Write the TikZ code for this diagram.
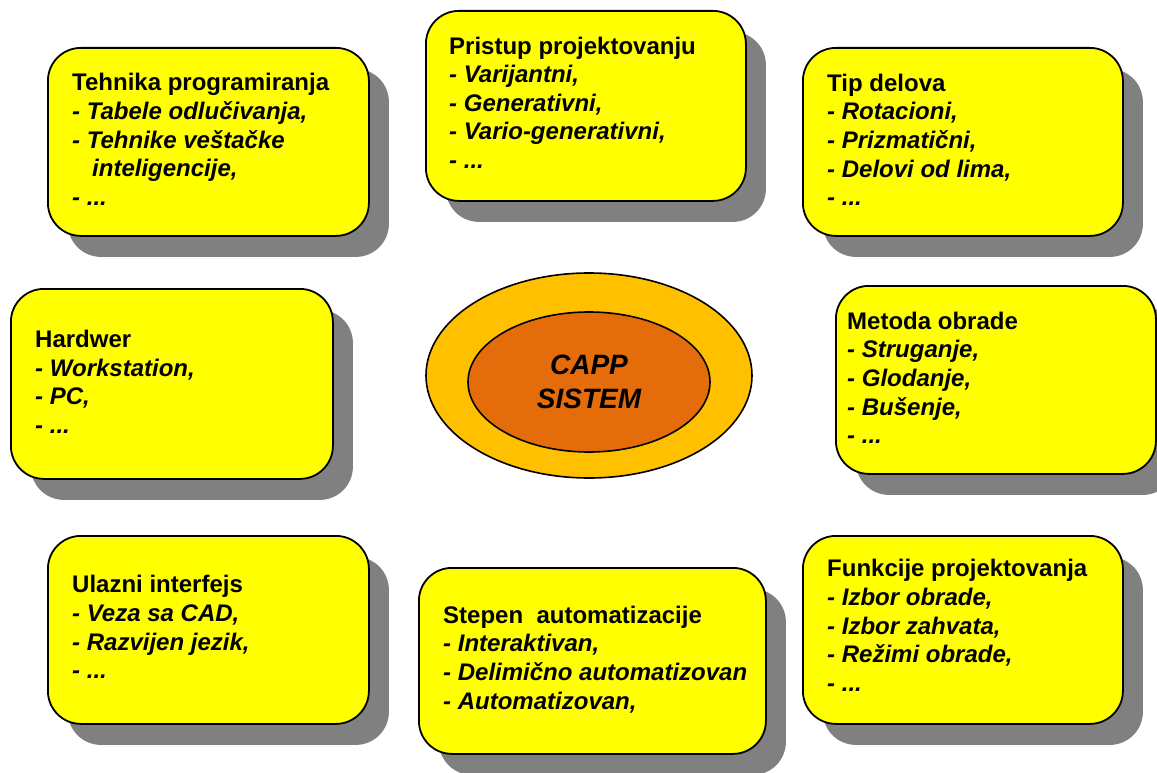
\documentclass[tikz,border=0pt]{standalone}
\usepackage{fontspec}
\setmainfont{Liberation Sans}
\usetikzlibrary{shapes.geometric,shadows}
\definecolor{boxyellow}{RGB}{255,255,0}
\definecolor{ringorange}{RGB}{255,192,0}
\definecolor{coreorange}{RGB}{228,108,10}
\definecolor{shadowgray}{RGB}{128,128,128}
\tikzset{
  infobox/.style={draw=black, line width=1.8pt, fill=boxyellow, rounded corners=33pt,
    anchor=north west, inner sep=0pt, minimum width=320pt, minimum height=188pt,
    drop shadow={shadow xshift=20pt, shadow yshift=-21pt, fill=shadowgray, opacity=1}},
  infotext/.style={anchor=north west, inner sep=0pt, align=left,
    font=\fontsize{24pt}{28.6pt}\selectfont\bfseries},
  ring/.style={ellipse, draw=black, line width=1.6pt, inner sep=0pt},
}
\newcommand{\firstln}{\rule{0pt}{20pt}}
\begin{document}
\begin{tikzpicture}[x=1pt,y=-1pt]
\useasboundingbox (0,0) rectangle (1157,773);

% boxes
\node[infobox, minimum width=321pt] (b1) at (47,47) {};
\node[infobox, minimum height=190pt] (b2) at (425,10) {};
\node[infobox] (b3) at (802,47) {};
\node[infobox, minimum width=322pt, minimum height=190pt] (b4) at (10,288) {};
\node[infobox] (b5) at (835,285) {};
\node[infobox, minimum width=321pt] (b6) at (47,535) {};
\node[infobox, minimum width=347pt, minimum height=186pt] (b7) at (418,567) {};
\node[infobox] (b8) at (802,535) {};

% texts
\node[infotext] (t1) at (72,70.7) {\firstln Tehnika programiranja\\
  \textit{- Tabele odlučivanja,}\\
  \textit{- Tehnike veštačke}\\
  \textit{\hspace*{20pt}inteligencije,}\\
  \textit{- ...}};
\node[infotext] (t2) at (449,34) {\firstln Pristup projektovanju\\
  \textit{- Varijantni,}\\
  \textit{- Generativni,}\\
  \textit{- Vario-generativni,}\\
  \textit{- ...}};
\node[infotext] (t3) at (827,71) {\firstln Tip delova\\
  \textit{- Rotacioni,}\\
  \textit{- Prizmatični,}\\
  \textit{- Delovi od lima,}\\
  \textit{- ...}};
\node[infotext] (t4) at (35,327.5) {\firstln Hardwer\\
  \textit{- Workstation,}\\
  \textit{- PC,}\\
  \textit{- ...}};
\node[infotext] (t5) at (847,309) {\firstln Metoda obrade\\
  \textit{- Struganje,}\\
  \textit{- Glodanje,}\\
  \textit{- Bušenje,}\\
  \textit{- ...}};
\node[infotext] (t6) at (72,572.7) {\firstln Ulazni interfejs\\
  \textit{- Veza sa CAD,}\\
  \textit{- Razvijen jezik,}\\
  \textit{- ...}};
\node[infotext] (t7) at (443,603) {\firstln Stepen\ \ automatizacije\\
  \textit{- Interaktivan,}\\
  \textit{- Delimično automatizovan}\\
  \textit{- Automatizovan,}};
\node[infotext] (t8) at (827,556.7) {\firstln Funkcije projektovanja\\
  \textit{- Izbor obrade,}\\
  \textit{- Izbor zahvata,}\\
  \textit{- Režimi obrade,}\\
  \textit{- ...}};

% central ellipses
\node[ring, fill=ringorange, minimum width=326pt, minimum height=205pt] (outer) at (589,375.5) {};
\node[ring, fill=coreorange, minimum width=242pt, minimum height=140pt, align=center,
  font=\fontsize{28pt}{34pt}\selectfont\bfseries\itshape] (core) at (589,382) {CAPP\\SISTEM};
\end{tikzpicture}
\end{document}
